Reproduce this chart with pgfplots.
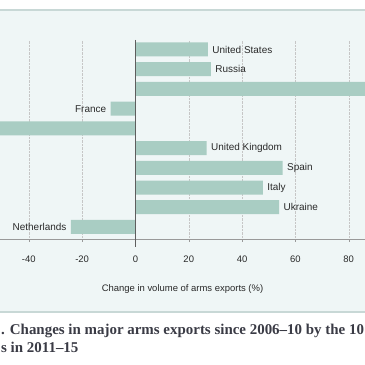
\documentclass[border=0pt]{standalone}
\usepackage{pgfplots}
\pgfplotsset{compat=1.18}
\usepackage{fontspec}
\setmainfont{Liberation Sans}
\newfontfamily\capfont{Liberation Serif}
\definecolor{barc}{HTML}{A9CDC3}
\definecolor{panel}{HTML}{EFF6F6}
\definecolor{rule}{HTML}{C8D8D6}
\definecolor{txt}{HTML}{2A2A2A}
\definecolor{captxt}{HTML}{3A3B45}
\begin{document}
\begin{tikzpicture}
\useasboundingbox (0,0) rectangle (365bp,365bp);
\clip (0,0) rectangle (365bp,365bp);
\fill[white] (0,0) rectangle (365bp,365bp);
\fill[panel] (0,53bp) rectangle (365bp,355bp);
\draw[rule,line width=1.5bp] (0,355bp) -- (365bp,355bp);
\draw[rule,line width=1.5bp] (0,53bp) -- (365bp,53bp);
\begin{axis}[
  at={(0bp,126bp)}, anchor=south west,
  width=365bp, height=199bp, scale only axis,
  xbar, bar width=14bp, bar shift=0pt,
  xmin=-50.8, xmax=86.1,
  ymin=-9.61, ymax=0.48,
  axis y line=none,
  axis x line*=bottom,
  x axis line style={draw=gray!80,-},
  xtick={-40,-20,0,20,40,60,80},
  tick align=outside,
  major tick length=3bp,
  tick style={draw=gray!80},
  xticklabel style={font=\fontsize{9.5}{11}\selectfont, text=txt, yshift=-10bp},
  /pgf/number format/assume math mode=true,
  xmajorgrids,
  grid style={densely dotted, draw=gray!45},
  xlabel={Change in volume of arms exports (\%)},
  xlabel style={font=\fontsize{9.5}{11}\selectfont, text=txt, yshift=-16bp},
  point meta=explicit symbolic,
  nodes near coords={\pgfplotspointmeta},
  every node near coord/.append style={font=\fontsize{10}{12}\selectfont, text=txt},
  clip=true,
]
\addplot[fill=barc, draw=none, nodes near coords align={horizontal},
  every node near coord/.append style={anchor=west, xshift=1bp}]
 coordinates {
 (27.2,0) [United States]
 (28.3,-1) [Russia]
 (88,-2) []
 (26.7,-5) [United Kingdom]
 (55.2,-6) [Spain]
 (47.8,-7) [Italy]
 (53.9,-8) [Ukraine]
};
\addplot[fill=barc, draw=none, nodes near coords align={horizontal},
  every node near coord/.append style={anchor=east, xshift=-1bp}]
 coordinates {
 (-9.3,-3) [France]
 (-51,-4) []
 (-24.2,-9) [Netherlands]
};
\draw[gray!20!black!70, line width=0.7bp] (axis cs:0,0.48) -- (axis cs:0,-9.61);
\end{axis}
\draw[gray!20!black!70, line width=0.7bp] (135.5bp,126bp) -- (135.5bp,118bp);
\node[anchor=base west, inner sep=0, text=captxt, font=\capfont\bfseries\fontsize{15}{18}\selectfont] at (1bp,31bp) {. Changes in major arms exports since 2006–10 by the 10};
\node[anchor=base west, inner sep=0, text=captxt, font=\capfont\bfseries\fontsize{15}{18}\selectfont] at (1bp,13bp) {s in 2011–15};
\end{tikzpicture}
\end{document}
